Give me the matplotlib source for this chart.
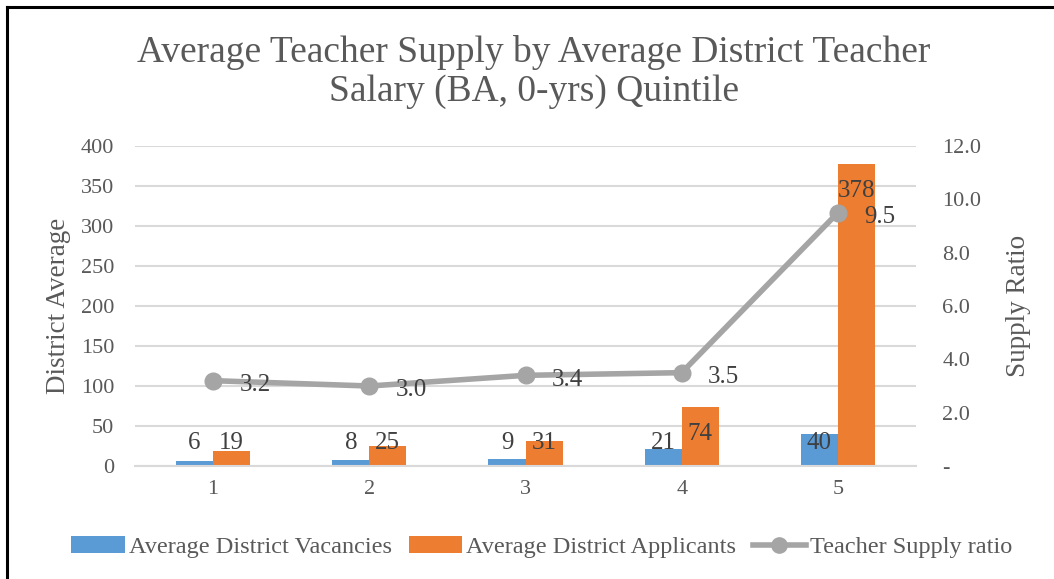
import matplotlib
matplotlib.use("Agg")
import matplotlib.pyplot as plt
import numpy as np
from matplotlib.lines import Line2D

categories = ["1", "2", "3", "4", "5"]
vacancies = [6, 8, 9, 21, 40]
applicants = [19, 25, 31, 74, 378]
supply_ratio = [3.2, 3.0, 3.4, 3.5, 9.5]
left_ticks = [0, 50, 100, 150, 200, 250, 300, 350, 400]
right_ticks = [0, 2, 4, 6, 8, 10, 12]

BLUE = "#5B9BD5"
ORANGE = "#ED7D31"
GRAY = "#A5A5A5"
TXT = "#595959"
GRID = "#D9D9D9"

plt.rcParams["font.family"] = ["Liberation Serif", "DejaVu Serif"]

fig = plt.figure(figsize=(10.54, 5.79), dpi=100)
ax = fig.add_axes([135/1054, 1-466/579, (916-135)/1054, (466-146)/579])
ax2 = ax.twinx()

x = np.arange(len(categories))
w = 0.237
b1 = ax.bar(x - w/2, vacancies, w, color=BLUE, zorder=2, label="Average District Vacancies")
b2 = ax.bar(x + w/2, applicants, w, color=ORANGE, zorder=2, label="Average District Applicants")

ax.set_xlim(-0.5, len(categories) - 0.5)
ax.set_ylim(0, 400)
ax.set_yticks(left_ticks)
ax.set_xticks(x)
ax.set_xticklabels(categories)
ax.yaxis.grid(True, color=GRID, linewidth=1.5, zorder=0)
ax.set_axisbelow(True)
for s in ["top", "right", "left"]:
    ax.spines[s].set_visible(False)
ax.spines["bottom"].set_color(GRID)
ax.spines["bottom"].set_linewidth(1.5)
ax.tick_params(axis="both", length=0, labelsize=16, colors=TXT)
ax.tick_params(axis="y", pad=15)
ax.tick_params(axis="x", pad=10)
ax.set_ylabel("District Average", fontsize=19.5, color=TXT, labelpad=7)

ax2.set_ylim(0, 12)
ax2.set_yticks(right_ticks)
ax2.set_yticklabels(["-" if t == 0 else f"{t:.1f}" for t in right_ticks])
for s in ["top", "right", "left", "bottom"]:
    ax2.spines[s].set_visible(False)
ax2.tick_params(axis="y", length=0, labelsize=16, colors=TXT, pad=19)
ax2.set_ylabel("Supply Ratio", fontsize=19.5, color=TXT, labelpad=18)

ln, = ax2.plot(x, supply_ratio, color=GRAY, linewidth=4, marker="o", markersize=12,
               zorder=5, label="Teacher Supply ratio")

# bar data labels
for xs, vals in ((x - w/2, vacancies), (x + w/2, applicants)):
    for xi, v in zip(xs, vals):
        ax.text(xi, max(v - 34, 29), str(v), ha="center", va="center",
                fontsize=18, color="#404040", zorder=6)

# line data labels
for xi, v in zip(x, supply_ratio):
    ax2.annotate(f"{v:.1f}", (xi, v), xytext=(19, -3), textcoords="offset points",
                 ha="left", va="center", fontsize=18, color="#404040", zorder=7)

ax.set_zorder(1)
ax2.set_zorder(2)
ax2.patch.set_visible(False)

fig.text(0.5 + 7/1054, 1-72/579,
         "Average Teacher Supply by Average District Teacher\nSalary (BA, 0-yrs) Quintile",
         ha="center", va="center", fontsize=27, color=TXT, linespacing=1.15)

handles = [b1, b2, Line2D([], [], color=GRAY, linewidth=4, marker="o", markersize=11)]
labels = ["Average District Vacancies", "Average District Applicants", "Teacher Supply ratio"]
fig.legend(handles, labels, loc="center", bbox_to_anchor=(0.514, 1-547/579), ncol=3,
           frameon=False, fontsize=17.5, labelcolor=TXT, handlelength=2.2, handletextpad=0.15,
           columnspacing=0.7)

# border lines (left and top)
fig.add_artist(Line2D([7/1054, 7/1054], [0, 1-7/579], color="black", linewidth=2.2,
                      transform=fig.transFigure))
fig.add_artist(Line2D([7/1054, 1], [1-7/579, 1-7/579], color="black", linewidth=2.2,
                      transform=fig.transFigure))

fig.savefig("out.png", dpi=100)
